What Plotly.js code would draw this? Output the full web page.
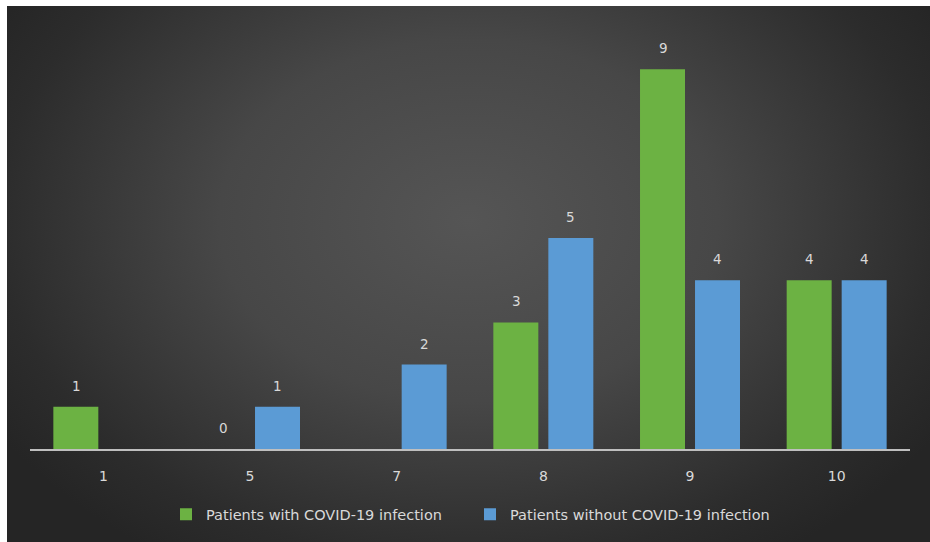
<!DOCTYPE html>
<html>
<head>
<meta charset="utf-8">
<script src="https://cdn.plot.ly/plotly-3.0.1.min.js"></script>
<style>
  html, body { margin: 0; padding: 0; background: #ffffff; width: 930px; height: 542px; overflow: hidden; }
  #chart {
    position: absolute; left: 7px; top: 6px; width: 923px; height: 536px;
    background: radial-gradient(ellipse 60% 75% at 50% 40%, #555555 0%, #474747 45%, #2c2c2c 85%, #252525 100%);
  }
</style>
</head>
<body>
<div id="chart"></div>
<script>
const categories = ["1", "5", "7", "8", "9", "10"];
const withCovid = [1, 0, null, 3, 9, 4];
const withoutCovid = [null, 1, 2, 5, 4, 4];
const seriesNames = ["Patients with COVID-19 infection", "Patients without COVID-19 infection"];
const colors = ["#6cb243", "#5b9bd5"];

const font = "'DejaVu Sans', sans-serif";
const labelColor = "#d9d9d9";

const traces = [withCovid, withoutCovid].map((vals, i) => ({
  type: "bar",
  name: seriesNames[i],
  x: categories,
  y: vals,
  marker: { color: colors[i] },
  hoverinfo: "x+y+name"
}));

const annotations = [];
[withCovid, withoutCovid].forEach((vals, i) => {
  vals.forEach((v, j) => {
    if (v === null) return;
    annotations.push({
      x: j, y: v, xref: "x", yref: "y",
      text: String(v), showarrow: false,
      xshift: i === 0 ? -27 : 27.5, yshift: 11,
      yanchor: "bottom",
      font: { family: font, size: 13.5, color: labelColor }
    });
  });
});

const layout = {
  width: 923, height: 536,
  margin: { l: 23, r: 20, t: 21, b: 93 },
  paper_bgcolor: "rgba(0,0,0,0)",
  plot_bgcolor: "rgba(0,0,0,0)",
  barmode: "group",
  bargap: 0.25,
  bargroupgap: 0.182,
  showlegend: true,
  legend: {
    orientation: "h", x: 0.5, xanchor: "center", y: -0.155, yanchor: "middle",
    font: { family: font, size: 14.5, color: labelColor },
    itemwidth: 30, traceorder: "normal", entrywidth: 259,
    bgcolor: "rgba(0,0,0,0)"
  },
  xaxis: {
    type: "category",
    range: [-0.5, 5.5],
    showline: true, linecolor: "#bfbfbf", linewidth: 1.5,
    showgrid: false, zeroline: false,
    ticks: "", ticklabelstandoff: 14,
    tickfont: { family: font, size: 14, color: labelColor }
  },
  yaxis: {
    range: [0, 10], visible: false, showgrid: false, zeroline: false
  },
  annotations: annotations
};

Plotly.newPlot("chart", traces, layout, { displayModeBar: false, staticPlot: true });
</script>
</body>
</html>
